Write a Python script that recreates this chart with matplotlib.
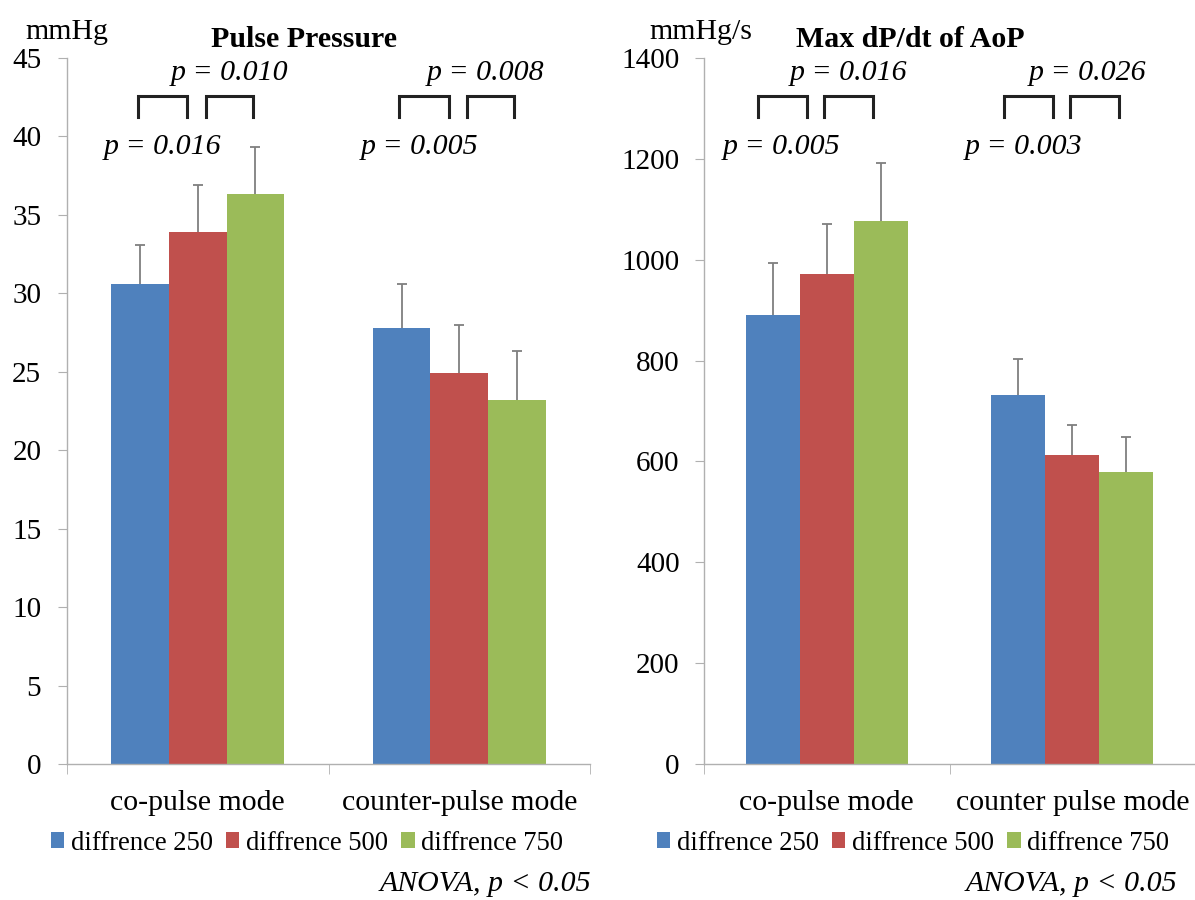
import matplotlib
matplotlib.use("Agg")
import matplotlib.pyplot as plt
import numpy as np

plt.rcParams['font.family'] = ['Liberation Serif', 'DejaVu Serif']

# data
modes_pp = ['co-pulse mode', 'counter-pulse mode']
modes_dp = ['co-pulse mode', 'counter pulse mode']
series = ['diffrence 250', 'diffrence 500', 'diffrence 750']

pp_mean_250 = [30.6, 27.8]
pp_mean_500 = [33.9, 24.9]
pp_mean_750 = [36.3, 23.2]
pp_sd_250 = [2.5, 2.8]
pp_sd_500 = [3.0, 3.1]
pp_sd_750 = [3.0, 3.1]

dp_mean_250 = [891, 732]
dp_mean_500 = [971, 613]
dp_mean_750 = [1076, 580]
dp_sd_250 = [102, 71]
dp_sd_500 = [99, 60]
dp_sd_750 = [116, 68]

pp_pvals_top = ['p = 0.010', 'p = 0.008']
pp_pvals_low = ['p = 0.016', 'p = 0.005']
dp_pvals_top = ['p = 0.016', 'p = 0.026']
dp_pvals_low = ['p = 0.005', 'p = 0.003']

colors = ['#4F81BD', '#C0504D', '#9BBB59']
W, H = 1195, 900
bar_w = 0.22

fig = plt.figure(figsize=(W / 100, H / 100), dpi=100)
ax1 = fig.add_axes([67 / W, 1 - 764 / H, 523 / W, 706 / H])
ax2 = fig.add_axes([704 / W, 1 - 764 / H, 491 / W, 706 / H])


def fx(px):
    return px / W


def fy(py):
    return 1 - py / H


def draw_panel(ax, labels, means, sds, ymax, ystep, ypad, brackets):
    x = np.arange(len(labels))
    for i, (m, s) in enumerate(zip(means, sds)):
        pos = x + (i - 1) * bar_w
        ax.bar(pos, m, bar_w, color=colors[i], label=series[i], zorder=2)
        # upper error bar only
        _, caps, _ = ax.errorbar(pos, m, yerr=[np.zeros(len(s)), s],
                                 fmt='none', ecolor='#7f7f7f',
                                 elinewidth=1.3, capsize=3.5, capthick=1.3,
                                 zorder=3)
        caps[0].set_visible(False)
    ax.set_xlim(-0.5, len(labels) - 0.5)
    ax.set_ylim(0, ymax)
    ax.set_yticks(np.arange(0, ymax + 1, ystep))
    ax.set_xticks(x)
    ax.set_xticklabels(labels, fontsize=21.5)
    ax.set_xticks(np.arange(-0.5, len(labels)), minor=True)
    for sp in ['top', 'right']:
        ax.spines[sp].set_visible(False)
    for sp in ['left', 'bottom']:
        ax.spines[sp].set_color('#b0b0b0')
        ax.spines[sp].set_linewidth(1.0)
    ax.tick_params(axis='x', which='major', length=0, pad=19)
    ax.tick_params(axis='x', which='minor', length=7, color='#b0b0b0',
                   direction='out')
    ax.tick_params(axis='y', length=6.5, color='#b0b0b0', labelsize=21,
                   pad=ypad)
    # significance brackets
    tr = ax.get_xaxis_transform()
    for g in x:
        for x0, x1 in brackets:
            ax.plot([g + x0, g + x0, g + x1, g + x1],
                    [0.916, 0.946, 0.946, 0.916], color='#222222', lw=2.2,
                    transform=tr, clip_on=False, solid_joinstyle='miter',
                    zorder=4)


draw_panel(ax1, modes_pp, [pp_mean_250, pp_mean_500, pp_mean_750],
           [pp_sd_250, pp_sd_500, pp_sd_750], 45, 5, 12,
           [(-0.23, -0.04), (0.03, 0.21)])
draw_panel(ax2, modes_dp, [dp_mean_250, dp_mean_500, dp_mean_750],
           [dp_sd_250, dp_sd_500, dp_sd_750], 1400, 200, 11,
           [(-0.28, -0.08), (-0.01, 0.19)])

# units and titles
fig.text(fx(25), fy(39), 'mmHg', fontsize=21.5, va='baseline', ha='left')
fig.text(fx(304), fy(47), 'Pulse Pressure', fontsize=21.5,
         fontweight='bold', va='baseline', ha='center')
fig.text(fx(649), fy(39), 'mmHg/s', fontsize=21.5, va='baseline', ha='left')
fig.text(fx(910), fy(47), 'Max dP/dt of AoP', fontsize=21.5,
         fontweight='bold', va='baseline', ha='center')

# p-values
ptxt = dict(fontsize=21.5, style='italic', va='baseline', ha='center')
for label, cx in zip(pp_pvals_top, [230, 486]):
    fig.text(fx(cx), fy(80), label, **ptxt)
for label, cx in zip(pp_pvals_low, [163, 420]):
    fig.text(fx(cx), fy(154), label, **ptxt)
for label, cx in zip(dp_pvals_top, [849, 1088]):
    fig.text(fx(cx), fy(80), label, **ptxt)
for label, cx in zip(dp_pvals_low, [782, 1024]):
    fig.text(fx(cx), fy(154), label, **ptxt)

# legends
for ax, cx in [(ax1, 307), (ax2, 913)]:
    handles, labels = ax.get_legend_handles_labels()
    fig.legend(handles, labels, loc='center', ncol=3,
               bbox_to_anchor=(fx(cx), fy(843)), frameon=False,
               fontsize=19.2, handlelength=0.5, handleheight=0.5,
               handletextpad=0.25, columnspacing=0.5, borderpad=0)

fig.text(fx(591), fy(891), 'ANOVA, p < 0.05', fontsize=21.5, style='italic',
         va='baseline', ha='right')
fig.text(fx(1177), fy(891), 'ANOVA, p < 0.05', fontsize=21.5, style='italic',
         va='baseline', ha='right')

fig.savefig('out.png', dpi=100)
